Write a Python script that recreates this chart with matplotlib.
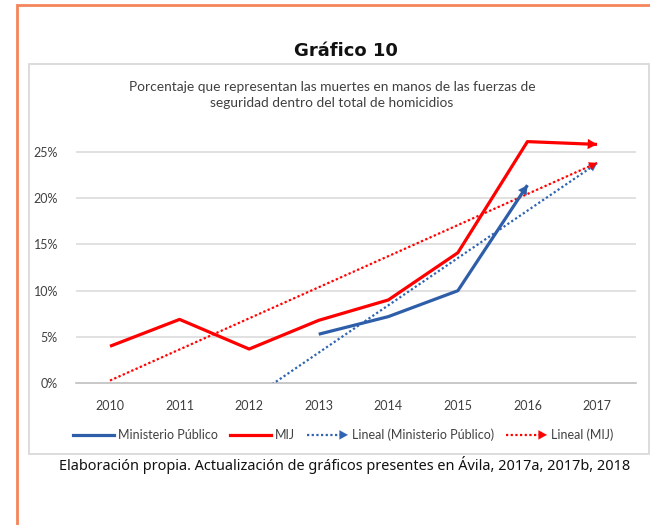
import numpy as np
import matplotlib
matplotlib.use("Agg")
import matplotlib.pyplot as plt
from matplotlib.lines import Line2D
from matplotlib.patches import Rectangle, FancyArrowPatch
from matplotlib.legend_handler import HandlerBase

# ---- data ----
years = [2010, 2011, 2012, 2013, 2014, 2015, 2016, 2017]
mij = [4.0, 6.9, 3.7, 6.8, 9.0, 14.1, 26.1, 25.8]
mp_years = [2013, 2014, 2015, 2016]
mp = [5.3, 7.2, 10.0, 21.4]
yticks = [0, 5, 10, 15, 20, 25]
ytick_labels = ["0%", "5%", "10%", "15%", "20%", "25%"]

title = "Gráfico 10"
subtitle = ("Porcentaje que representan las muertes en manos de las fuerzas de\n"
            "seguridad dentro del total de homicidios")
footnote = "Elaboración propia. Actualización de gráficos presentes en Ávila, 2017a, 2017b, 2018"
labels = ["Ministerio Público", "MIJ", "Lineal (Ministerio Público)", "Lineal (MIJ)"]

BLUE = "#2F5EA9"
BLUE_DOT = "#2E64B2"
RED = "#FF0000"
FONT = "Lato"
DOT = (0, (1, 1.1))

W, H = 650, 525
fig = plt.figure(figsize=(W / 100, H / 100), dpi=100)

def fx(px):
    return px / W

def fy(py):
    return 1 - py / H

# orange outer border (top-left corner visible)
fig.patches.append(Rectangle((fx(17), fy(800)), fx(900), (800 - 5) / H, transform=fig.transFigure,
                             fill=False, edgecolor="#F4845A", linewidth=2.0, zorder=0))
# gray chart box
fig.patches.append(Rectangle((fx(29), fy(454)), fx(620), (454 - 64) / H, transform=fig.transFigure,
                             fill=False, edgecolor="#D9D9D9", linewidth=1.3, zorder=0))

fig.text(fx(346), fy(51), title, ha="center", va="center", fontsize=13, fontweight="bold",
         family="DejaVu Sans", color="#111111")
fig.text(fx(332), fy(95), subtitle, ha="center", va="center", fontsize=9.9, family=FONT,
         color="#404040", linespacing=1.45)
foot = fig.text(fx(345), fy(465), footnote, ha="center", va="center", fontsize=11,
                family="Noto Sans", color="#111111")
# fit footnote to its width in the reference (~574 px)
r = fig.canvas.get_renderer()
wpx = foot.get_window_extent(renderer=r).width
foot.set_fontsize(11 * 574 / wpx)

# axes: 0% at y=383.3, 5% step = 46.3 px; x from 76 to 636
ymax = 27.0
ax_bottom_px = 383.3
ax_top_px = ax_bottom_px - ymax / 5 * 46.3
ax = fig.add_axes([fx(76), fy(ax_bottom_px), fx(636 - 76), (ax_bottom_px - ax_top_px) / H])
step = (597 - 110) / 7
x0 = 2010 - (110 - 76) / step
x1 = 2017 + (636 - 597) / step
ax.set_xlim(x0, x1)
ax.set_ylim(0, ymax)

for s in ["top", "left", "right"]:
    ax.spines[s].set_visible(False)
ax.spines["bottom"].set_color("#BFBFBF")
ax.spines["bottom"].set_linewidth(1.2)
ax.set_yticks(yticks)
ax.set_yticklabels(ytick_labels)
ax.set_xticks(years)
ax.set_xticklabels([str(y) for y in years])
ax.tick_params(length=0, labelsize=9, labelcolor="#404040", pad=12)
ax.tick_params(axis="y", pad=13)
for lab in ax.get_xticklabels() + ax.get_yticklabels():
    lab.set_family(FONT)
for t in yticks[1:]:
    ax.axhline(t, color="#D9D9D9", linewidth=1.1, zorder=0)

def arrow_line(xs, ys, color, lw, ls, z, head=(0.65, 0.36), clip=True):
    ax.plot(xs, ys, color=color, linewidth=lw, linestyle=ls, solid_capstyle="butt",
            dash_capstyle="butt", zorder=z, clip_on=clip)
    ax.annotate("", xy=(xs[-1], ys[-1]), xytext=(xs[-2], ys[-2]),
                arrowprops=dict(arrowstyle=f"-|>,head_length={head[0]},head_width={head[1]}",
                                color=color, lw=0.1, shrinkA=0, shrinkB=0,
                                mutation_scale=10),
                annotation_clip=False, zorder=z + 0.1)

# trend lines (least squares fits of the series)
tx = np.array([2010, 2017], dtype=float)
c_mij = np.polyfit(years, mij, 1)
c_mp = np.polyfit(mp_years, mp, 1)
mp_trend_x = np.linspace(2010, 2017, 50)
arrow_line(mp_trend_x, np.polyval(c_mp, mp_trend_x), BLUE_DOT, 1.6, DOT, 3, head=(0.55, 0.3))
arrow_line(tx, np.polyval(c_mij, tx), RED, 1.6, DOT, 3, head=(0.55, 0.3))

# series
arrow_line(mp_years, mp, BLUE, 2.3, "-", 4)
arrow_line(years, mij, RED, 2.3, "-", 5)

# legend
class HandlerArrow(HandlerBase):
    def create_artists(self, legend, orig, xd, yd, width, height, fontsize, trans):
        y = height / 2 - yd
        x_end = width - xd
        al = 6
        line = Line2D([-xd, x_end - al + 1], [y, y], color=orig.get_color(),
                      linewidth=orig.get_linewidth(), linestyle=DOT,
                      transform=trans)
        head = FancyArrowPatch((x_end - al, y), (x_end, y),
                               arrowstyle="-|>,head_length=0.6,head_width=0.33",
                               mutation_scale=10, color=orig.get_color(), lw=0.1,
                               shrinkA=0, shrinkB=0, transform=trans)
        return [line, head]

h1 = Line2D([], [], color=BLUE, linewidth=2.3)
h2 = Line2D([], [], color=RED, linewidth=2.3)
h3 = Line2D([], [], color=BLUE_DOT, linewidth=1.6, linestyle=DOT)
h4 = Line2D([], [], color=RED, linewidth=1.6, linestyle=DOT)
leg = fig.legend([h1, h2, h3, h4], labels, loc="center", bbox_to_anchor=(fx(343), fy(435)),
                 ncol=4, frameon=False, handlelength=3.3, handletextpad=0.3, columnspacing=0.95,
                 prop={"family": FONT, "size": 9},
                 handler_map={h3: HandlerArrow(), h4: HandlerArrow()})
for t in leg.get_texts():
    t.set_color("#404040")

fig.savefig("out.png", dpi=100)
